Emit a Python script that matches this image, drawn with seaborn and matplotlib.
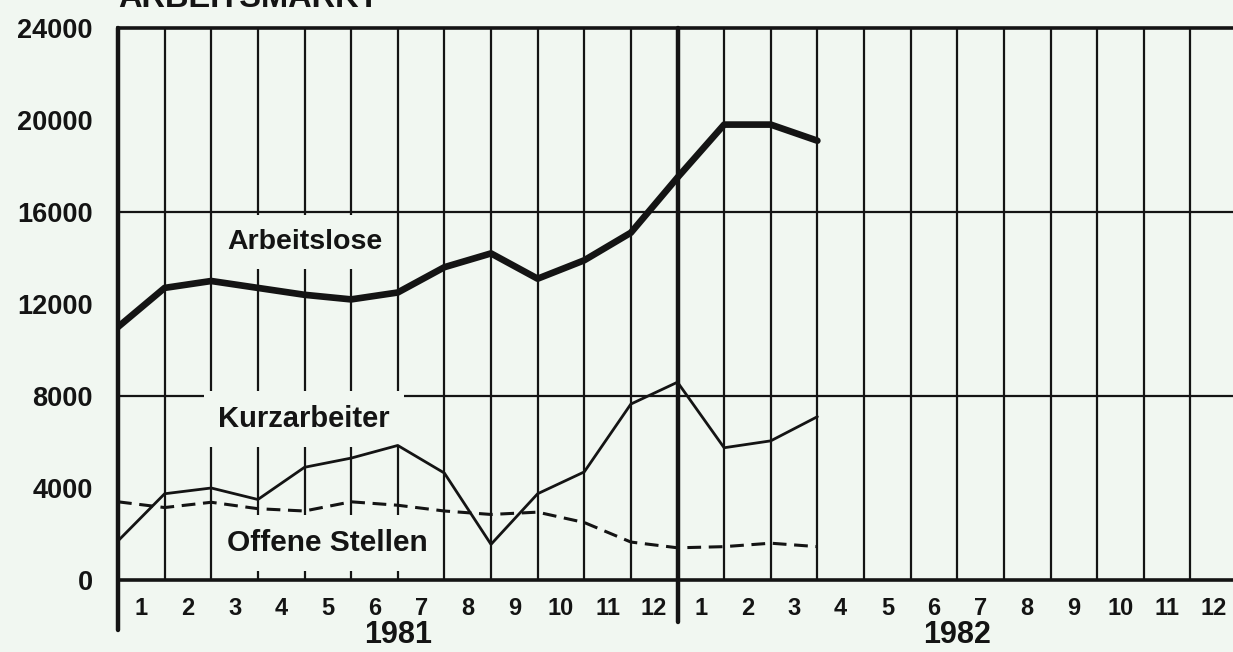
import numpy as np
import pandas as pd
import matplotlib
matplotlib.use("Agg")
import matplotlib.pyplot as plt
import seaborn as sns

# month-end positions Jan 1981 .. Mar 1982 (0 = start of Jan 1981)
months = list(range(16))
arbeitslose = [11000, 12700, 13000, 12700, 12400, 12200, 12500, 13600,
               14200, 13100, 13900, 15100, 17500, 19800, 19800, 19100]
kurzarbeiter = [1700, 3750, 4000, 3500, 4900, 5300, 5850, 4650,
                1550, 3750, 4700, 7650, 8600, 5750, 6050, 7100]
offene_stellen = [3400, 3150, 3380, 3100, 3000, 3400, 3250, 3000,
                  2850, 2950, 2500, 1650, 1400, 1450, 1600, 1450]
month_labels = [str(m) for m in range(1, 13)] * 2
years = ["1981", "1982"]
y_ticks = [0, 4000, 8000, 12000, 16000, 20000, 24000]

BG = "#f1f7f1"
INK = "#141414"


def main():
    sns.set_style("white")
    plt.rcParams["font.family"] = ["Liberation Sans", "DejaVu Sans"]
    plt.rcParams["font.weight"] = "bold"

    df = pd.DataFrame({"monat": months, "Arbeitslose": arbeitslose,
                       "Kurzarbeiter": kurzarbeiter,
                       "Offene Stellen": offene_stellen})

    fig = plt.figure(figsize=(12.33, 6.52), dpi=100, facecolor=BG)
    ax = fig.add_axes([118 / 1233, 1 - 580 / 652, 1119 / 1233, 552 / 652])
    ax.set_facecolor(BG)

    # grid: month boundaries and every 8000
    ax.set_xlim(0, 24)
    ax.set_ylim(0, 24000)
    ax.set_xticks(range(25))
    ax.set_xticklabels([])
    ax.grid(axis="x", color=INK, lw=1.6, zorder=1)
    for yv in (8000, 16000):
        ax.axhline(yv, color=INK, lw=1.6, zorder=1)
    ax.axvline(0, ymin=-0.091, ymax=1, color=INK, lw=3.2, clip_on=False, zorder=4)
    ax.axvline(12, ymin=-0.076, ymax=1, color=INK, lw=3.2, clip_on=False, zorder=4)

    for side in ("top", "bottom"):
        ax.spines[side].set_linewidth(2.6)
        ax.spines[side].set_color(INK)
    ax.spines["left"].set_visible(False)
    ax.spines["right"].set_visible(False)

    ax.tick_params(axis="x", which="major", direction="out", length=11,
                   width=1.6, color=INK)
    ax.set_xticks([i + 0.5 for i in range(24)], minor=True)
    ax.set_xticklabels(month_labels, minor=True, fontsize=17, fontweight="bold")
    ax.tick_params(axis="x", which="minor", length=0, pad=12, labelcolor=INK)

    ax.set_yticks(y_ticks)
    ax.set_yticklabels(y_ticks, fontsize=19.5, fontweight="bold")
    ax.tick_params(axis="y", direction="out", length=10, width=1.6, pad=8,
                   color=INK, labelcolor=INK)

    # series
    sns.lineplot(data=df, x="monat", y="Arbeitslose", ax=ax, color=INK,
                 lw=4.8, zorder=3, solid_joinstyle="round")
    sns.lineplot(data=df, x="monat", y="Kurzarbeiter", ax=ax, color=INK,
                 lw=2.0, zorder=3)
    sns.lineplot(data=df, x="monat", y="Offene Stellen", ax=ax, color=INK,
                 lw=2.2, linestyle=(0, (4.5, 2.5)), zorder=3)
    ax.set_xlabel("")
    ax.set_ylabel("")

    # series labels with paper-coloured boxes over the grid
    box = dict(facecolor=BG, edgecolor="none", pad=10)
    ax.text(4.0, 14700, "Arbeitslose", ha="center", va="center", fontsize=20.5,
            fontweight="bold", color=INK, bbox=box, zorder=2)
    ax.text(3.99, 7000, "Kurzarbeiter", ha="center", va="center", fontsize=21,
            fontweight="bold", color=INK, bbox=box, zorder=2)
    ax.text(4.49, 1600, "Offene Stellen", ha="center", va="center", fontsize=21.5,
            fontweight="bold", color=INK, bbox=box, zorder=2)

    # year labels
    for i, yr in enumerate(years):
        ax.text(6 + 12 * i, -2400, yr, ha="center", va="center", fontsize=22,
                fontweight="bold", color=INK, clip_on=False)

    # title, cropped at the top edge as in the scan
    fig.text(118 / 1233, 1 - 7 / 652, "ARBEITSMARKT", ha="left", va="baseline",
             fontsize=23.5, fontweight="bold", color=INK)

    fig.savefig("out.png", dpi=100, facecolor=BG)
    plt.close(fig)


if __name__ == "__main__":
    main()
